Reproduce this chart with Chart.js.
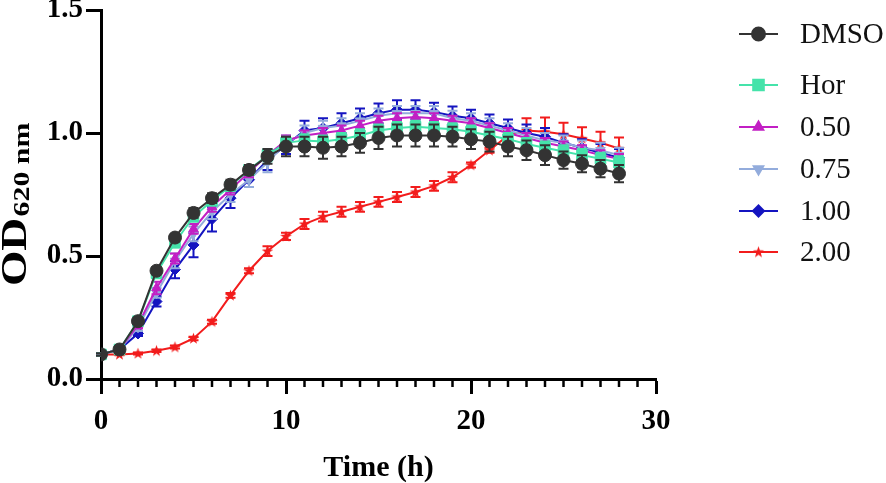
<!DOCTYPE html>
<html><head><meta charset="utf-8">
<script src="https://cdn.jsdelivr.net/npm/chart.js@4.4.1/dist/chart.umd.min.js"></script>
<style>html,body{margin:0;padding:0;background:#fff;overflow:hidden}#wrap{width:886px;height:483px;position:relative}</style>
</head><body><div id="wrap"><canvas id="c" width="886" height="483"></canvas></div>
<script>
// ---- data ----
const hours = [0,1,2,3,4,5,6,7,8,9,10,11,12,13,14,15,16,17,18,19,20,21,22,23,24,25,26,27,28];
const seriesNames = ['DMSO','Hor','0.50','0.75','1.00','2.00'];
const dmso = [0.10,0.12,0.235,0.44,0.575,0.675,0.735,0.79,0.85,0.905,0.945,0.945,0.94,0.945,0.96,0.98,0.99,0.99,0.99,0.985,0.975,0.965,0.945,0.93,0.91,0.89,0.875,0.855,0.835];
const dmsoErr = [0.005,0.01,0.01,0.015,0.015,0.02,0.02,0.02,0.02,0.03,0.04,0.04,0.045,0.04,0.04,0.045,0.045,0.045,0.045,0.04,0.04,0.04,0.04,0.04,0.04,0.035,0.035,0.035,0.035];
const hor = [0.10,0.12,0.235,0.43,0.555,0.66,0.725,0.785,0.85,0.91,0.96,0.97,0.965,0.975,0.99,1.01,1.02,1.025,1.02,1.015,1.005,0.99,0.975,0.955,0.94,0.925,0.91,0.895,0.88];
const horErr = [0.005,0.01,0.01,0.02,0.02,0.02,0.02,0.02,0.02,0.025,0.025,0.025,0.025,0.025,0.025,0.025,0.025,0.025,0.025,0.025,0.025,0.025,0.025,0.025,0.025,0.025,0.025,0.025,0.025];
const c050 = [0.10,0.12,0.22,0.37,0.49,0.61,0.70,0.77,0.84,0.91,0.97,0.99,1.00,1.01,1.03,1.05,1.06,1.065,1.06,1.05,1.04,1.02,1.00,0.98,0.96,0.945,0.93,0.91,0.895];
const c050Err = [0.005,0.01,0.015,0.025,0.02,0.02,0.02,0.02,0.02,0.02,0.02,0.02,0.02,0.02,0.02,0.02,0.02,0.02,0.02,0.02,0.02,0.02,0.02,0.02,0.02,0.02,0.02,0.02,0.02];
const c075 = [0.10,0.12,0.21,0.35,0.48,0.59,0.68,0.75,0.81,0.88,0.96,1.00,1.02,1.03,1.05,1.07,1.08,1.08,1.08,1.06,1.05,1.03,1.01,0.99,0.97,0.96,0.94,0.93,0.91];
const c075Err = [0.005,0.01,0.015,0.02,0.03,0.03,0.03,0.03,0.03,0.04,0.03,0.03,0.03,0.03,0.03,0.03,0.03,0.03,0.03,0.03,0.03,0.03,0.03,0.03,0.03,0.03,0.03,0.03,0.03];
const c100 = [0.10,0.12,0.185,0.315,0.445,0.545,0.65,0.735,0.81,0.89,0.95,1.01,1.02,1.04,1.06,1.08,1.095,1.095,1.085,1.07,1.06,1.04,1.02,1.00,0.985,0.96,0.94,0.92,0.90];
const c100Err = [0.005,0.01,0.01,0.02,0.035,0.05,0.05,0.04,0.03,0.04,0.035,0.04,0.04,0.04,0.04,0.04,0.038,0.038,0.038,0.038,0.035,0.035,0.035,0.035,0.035,0.035,0.035,0.035,0.035];
const c200 = [0.10,0.10,0.104,0.115,0.13,0.165,0.233,0.34,0.44,0.52,0.58,0.63,0.66,0.68,0.70,0.72,0.74,0.76,0.785,0.82,0.87,0.93,0.99,1.01,1.005,0.995,0.978,0.96,0.937];
const c200Err = [0.003,0.003,0.004,0.005,0.006,0.007,0.008,0.01,0.01,0.02,0.015,0.02,0.02,0.02,0.02,0.02,0.02,0.02,0.02,0.02,0.01,0.01,0.02,0.05,0.058,0.047,0.045,0.045,0.045];
const xTickValues = [0,10,20,30];
const yTickValues = [0,0.5,1.0,1.5];
const legendYs = [34,85,127,169,211,252];

// red star marker
function makeStar(color){
  const cv=document.createElement('canvas'); cv.width=13; cv.height=13;
  const g=cv.getContext('2d'); g.fillStyle=color; g.beginPath();
  for(let i=0;i<10;i++){const r=i%2?2.4:6; const a=-Math.PI/2+i*Math.PI/5; g.lineTo(6.5+r*Math.cos(a),6.8+r*Math.sin(a));}
  g.closePath(); g.fill(); return cv;
}
const starImg = makeStar('#f21c1c');

const styles = [
  {color:'#333333', point:'circle', radius:6.5, rot:0},
  {color:'#45e3aa', point:'rect', radius:7.5, rot:0},
  {color:'#c21fc4', point:'triangle', radius:5.5, rot:0},
  {color:'#93acdc', point:'triangle', radius:5.5, rot:180},
  {color:'#1414c0', point:'rectRot', radius:5.5, rot:0},
  {color:'#f21c1c', point:starImg, radius:6, rot:0},
];
const values = [dmso,hor,c050,c075,c100,c200];
const errs = [dmsoErr,horErr,c050Err,c075Err,c100Err,c200Err];

const datasets = seriesNames.map((n,k)=>({
  label:n,
  data: hours.map((h,i)=>({x:h,y:values[k][i]})),
  errors: errs[k],
  borderColor: styles[k].color,
  backgroundColor: styles[k].color,
  pointBackgroundColor: styles[k].color,
  pointBorderColor: styles[k].color,
  pointBorderWidth: 1,
  pointStyle: styles[k].point,
  pointRadius: styles[k].radius,
  pointRotation: styles[k].rot,
  borderWidth: 2,
  tension: 0,
  fill: false,
}));

const errorBars = {
  id:'errorBars',
  beforeDatasetDraw(chart,args){
    const ds = chart.data.datasets[args.index]; const e = ds.errors; if(!e) return;
    const xs=chart.scales.x, ys=chart.scales.y, ctx=chart.ctx;
    ctx.save(); ctx.strokeStyle=ds.borderColor; ctx.lineWidth=2;
    ds.data.forEach((p,i)=>{
      if(!e[i]) return;
      const x=xs.getPixelForValue(p.x), yt=ys.getPixelForValue(p.y+e[i]), yb=ys.getPixelForValue(p.y-e[i]);
      ctx.beginPath(); ctx.moveTo(x,yt); ctx.lineTo(x,yb);
      ctx.moveTo(x-5,yt); ctx.lineTo(x+5,yt); ctx.moveTo(x-5,yb); ctx.lineTo(x+5,yb); ctx.stroke();
    });
    ctx.restore();
  }
};

const extras = {
  id:'extras',
  afterDraw(chart){
    const ctx=chart.ctx, xs=chart.scales.x, ys=chart.scales.y;
    // minor x ticks
    ctx.save(); ctx.strokeStyle='#000'; ctx.lineWidth=2.5;
    const yb = ys.getPixelForValue(0);
    hours.concat([29]).forEach(h=>{ if(h%10===0) return; const x=xs.getPixelForValue(h); ctx.beginPath(); ctx.moveTo(x,yb); ctx.lineTo(x,yb+8); ctx.stroke(); });
    ctx.restore();
    // y title (rotated, with subscript)
    ctx.save(); ctx.translate(0,205); ctx.rotate(-Math.PI/2); ctx.scale(1.3,1); ctx.fillStyle='#000'; ctx.textBaseline='alphabetic'; ctx.textAlign='left';
    const f1='bold 35px "Liberation Serif"', f2='bold 23px "Liberation Serif"';
    ctx.font=f1; const w1=ctx.measureText('OD').width; ctx.font=f2; const w2=ctx.measureText('620 nm').width;
    const x0=-(w1+w2)/2;
    ctx.font=f1; ctx.fillText('OD',x0,26);
    ctx.font=f2; ctx.fillText('620 nm',x0+w1+1,29);
    ctx.restore();
    // legend
    ctx.save();
    chart.data.datasets.forEach((ds,k)=>{
      const y=legendYs[k];
      ctx.strokeStyle=ds.borderColor; ctx.lineWidth=2; ctx.beginPath(); ctx.moveTo(739,y); ctx.lineTo(778,y); ctx.stroke();
      ctx.fillStyle=ds.pointBackgroundColor;
      Chart.helpers.drawPoint(ctx,{pointStyle:ds.pointStyle,radius:ds.pointRadius,rotation:ds.pointRotation,borderWidth:1},758.5,y);
      ctx.fillStyle='#111'; ctx.font='29px "Liberation Serif"'; ctx.textBaseline='middle'; ctx.textAlign='left';
      ctx.fillText(ds.label,800,y+1);
    });
    ctx.restore();
  }
};

const tickFont = {family:'"Liberation Serif"', weight:'bold', size:29};
new Chart(document.getElementById('c'),{
  type:'line',
  data:{datasets},
  plugins:[errorBars,extras],
  options:{
    responsive:false, animation:false,
    layout:{padding:{left:0,right:230,top:10,bottom:0}},
    plugins:{legend:{display:false},tooltip:{enabled:false}},
    scales:{
      x:{type:'linear',min:0,max:30,
        afterBuildTicks:s=>{s.ticks=xTickValues.map(v=>({value:v}));},
        ticks:{font:tickFont,color:'#000',padding:10,maxRotation:0,autoSkip:false},
        grid:{drawOnChartArea:false,drawTicks:true,tickLength:15,tickWidth:3,tickColor:'#000'},
        border:{display:true,width:3,color:'#000'},
        title:{display:true,text:'Time (h)',color:'#000',font:{family:'"Liberation Serif"',weight:'bold',size:30},padding:{top:0,bottom:-3}},
        afterFit:s=>{s.height=104; s.paddingLeft=0; s.paddingRight=0;}
      },
      y:{min:0,max:1.5,
        afterBuildTicks:s=>{s.ticks=yTickValues.map(v=>({value:v}));},
        ticks:{font:tickFont,color:'#000',padding:3,callback:v=>Number(v).toFixed(1)},
        grid:{drawOnChartArea:false,drawTicks:true,tickLength:15,tickWidth:3,tickColor:'#000'},
        border:{display:true,width:3,color:'#000'},
        afterFit:s=>{s.width=101; s.paddingTop=0; s.paddingBottom=0;}
      }
    }
  }
});
</script></body></html>
